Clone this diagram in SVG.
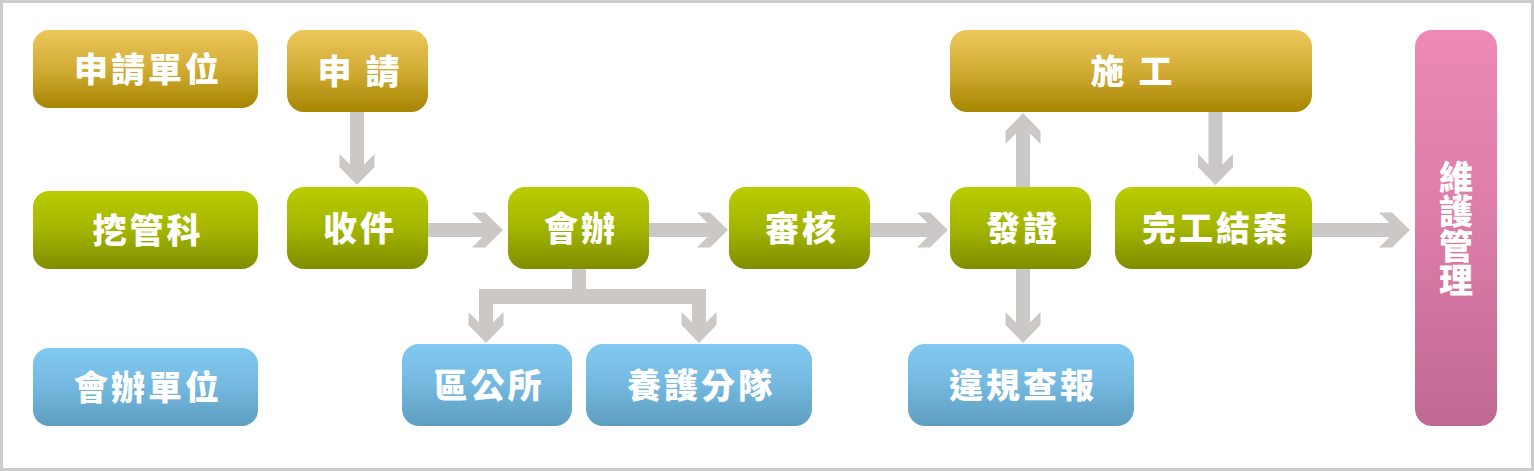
<svg xmlns="http://www.w3.org/2000/svg" width="1534" height="471" viewBox="0 0 1534 471">
<defs>
<linearGradient id="gGold" x1="0" y1="0" x2="0" y2="1"><stop offset="0" stop-color="#EDC75C"/><stop offset="0.5" stop-color="#D1AC34"/><stop offset="1" stop-color="#A68500"/></linearGradient>
<linearGradient id="gGreen" x1="0" y1="0" x2="0" y2="1"><stop offset="0" stop-color="#B9CD00"/><stop offset="0.5" stop-color="#A3B500"/><stop offset="1" stop-color="#7F8D00"/></linearGradient>
<linearGradient id="gBlue" x1="0" y1="0" x2="0" y2="1"><stop offset="0" stop-color="#81C9F0"/><stop offset="0.5" stop-color="#74B8DF"/><stop offset="1" stop-color="#5E9EBF"/></linearGradient>
<linearGradient id="gPink" x1="0" y1="0" x2="0" y2="1"><stop offset="0" stop-color="#EE89B5"/><stop offset="0.5" stop-color="#DB7CA7"/><stop offset="1" stop-color="#BF6992"/></linearGradient>
</defs>
<style>
.gold{fill:url(#gGold)}
.green{fill:url(#gGreen)}
.blue{fill:url(#gBlue)}
.pink{fill:url(#gPink)}
.lbl{font-family:"Noto Sans CJK TC","Noto Sans CJK SC",sans-serif;font-weight:900;font-size:34px;fill:#FFFFFF;text-anchor:middle;letter-spacing:3px}
.vert{writing-mode:vertical-rl;letter-spacing:0.5px}
.arrow{fill:#CBC8C5}
</style>
<rect x="0" y="0" width="1534" height="471" fill="#FFFFFF"/>
<rect x="1.5" y="1.5" width="1531" height="468" fill="none" stroke="#CCCCCC" stroke-width="3"/>
<g id="connectors">
<path class="arrow" d="M350,112 V164.5 L339.5,154 V167 L357,185 L374.5,167 V154 L364,164.5 V112 Z"/>
<path class="arrow" d="M428,223 H482.5 L472,212.5 H485 L503,230 L485,247.5 H472 L482.5,237 H428 Z"/>
<path class="arrow" d="M649,223 H707.5 L697,212.5 H710 L728,230 L710,247.5 H697 L707.5,237 H649 Z"/>
<path class="arrow" d="M870,223 H927.5 L917,212.5 H930 L948,230 L930,247.5 H917 L927.5,237 H870 Z"/>
<path class="arrow" d="M1312,223 H1389.5 L1379,212.5 H1392 L1410,230 L1392,247.5 H1379 L1389.5,237 H1312 Z"/>
<path class="arrow" d="M1016,187 V133.5 L1005.5,144 V131 L1023,113 L1040.5,131 V144 L1030,133.5 V187 Z"/>
<path class="arrow" d="M1208.5,112 V164.5 L1198,154 V167 L1215.5,185 L1233,167 V154 L1222.5,164.5 V112 Z"/>
<path class="arrow" d="M1016,269 V322.5 L1005.5,312 V325 L1023,343 L1040.5,325 V312 L1030,322.5 V269 Z"/>
<path class="arrow" d="M572,269 H586 V289 H706 V304 H479 V289 H572 Z"/>
<path class="arrow" d="M479,289 V322.5 L468.5,312 V325 L486,343 L503.5,325 V312 L493,322.5 V289 Z"/>
<path class="arrow" d="M692,289 V322.5 L681.5,312 V325 L699,343 L716.5,325 V312 L706,322.5 V289 Z"/>
</g>
<g id="n_applicant"><rect class="gold" x="33" y="30" width="225" height="78" rx="16"/><text class="lbl" x="148" y="82">申請單位</text></g>
<g id="n_dig"><rect class="green" x="33" y="191" width="225" height="78" rx="16"/><text class="lbl" x="148" y="243">挖管科</text></g>
<g id="n_cooffice"><rect class="blue" x="33" y="348" width="225" height="78" rx="16"/><text class="lbl" x="148" y="400">會辦單位</text></g>
<g id="n_apply"><rect class="gold" x="287" y="30" width="141" height="82" rx="17"/><text class="lbl" x="360" y="84">申 請</text></g>
<g id="n_receive"><rect class="green" x="287" y="187" width="141" height="82" rx="17"/><text class="lbl" x="360" y="241">收件</text></g>
<g id="n_joint"><rect class="green" x="508" y="187" width="141" height="82" rx="17"/><text class="lbl" x="581" y="241">會辦</text></g>
<g id="n_review"><rect class="green" x="729" y="187" width="141" height="82" rx="17"/><text class="lbl" x="802" y="241">審核</text></g>
<g id="n_permit"><rect class="green" x="950" y="187" width="141" height="82" rx="17"/><text class="lbl" x="1023" y="241">發證</text></g>
<g id="n_construct"><rect class="gold" x="950" y="30" width="362" height="82" rx="17"/><text class="lbl" x="1133" y="84">施 工</text></g>
<g id="n_complete"><rect class="green" x="1115" y="187" width="197" height="82" rx="17"/><text class="lbl" x="1216" y="241">完工結案</text></g>
<g id="n_maint"><rect class="pink" x="1415" y="30" width="82" height="396" rx="17"/><text class="lbl vert" x="1456" y="229">維護管理</text></g>
<g id="n_district"><rect class="blue" x="402" y="344" width="170" height="82" rx="17"/><text class="lbl" x="489" y="398">區公所</text></g>
<g id="n_squad"><rect class="blue" x="586" y="344" width="226" height="82" rx="17"/><text class="lbl" x="701" y="398">養護分隊</text></g>
<g id="n_violation"><rect class="blue" x="908" y="344" width="226" height="82" rx="17"/><text class="lbl" x="1023" y="398">違規查報</text></g>
</svg>
